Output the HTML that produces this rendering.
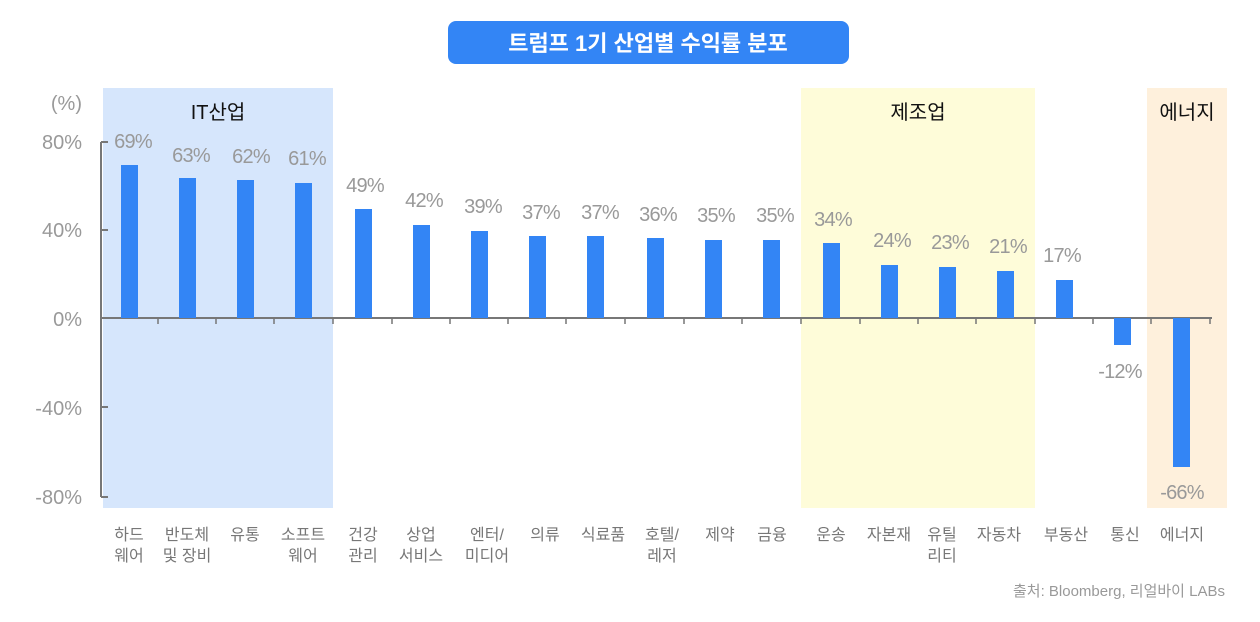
<!DOCTYPE html>
<html><head><meta charset="utf-8"><style>
html,body{margin:0;padding:0;background:#fff;}
svg{display:block;font-family:"Liberation Sans","Noto Sans CJK KR",sans-serif;}
</style></head><body>
<svg width="1260" height="622" viewBox="0 0 1260 622" xmlns="http://www.w3.org/2000/svg">
<rect x="448" y="21" width="401" height="43" rx="8" fill="#3385f5"/>
<text x="648" y="51" text-anchor="middle" font-size="22" font-weight="bold" fill="#fff">트럼프 1기 산업별 수익률 분포</text>
<rect x="103" y="88" width="230" height="420" fill="#d6e6fc"/>
<rect x="801" y="88" width="234" height="420" fill="#fefcd9"/>
<rect x="1147" y="88" width="80" height="420" fill="#fef0dc"/>
<text x="218" y="119" text-anchor="middle" font-size="20" fill="#111">IT산업</text>
<text x="918" y="119" text-anchor="middle" font-size="20" fill="#111">제조업</text>
<text x="1187" y="119" text-anchor="middle" font-size="20" fill="#111">에너지</text>
<g font-size="20" fill="#999" text-anchor="end">
<text x="82" y="110">(%)</text>
<text x="82" y="149">80%</text>
<text x="82" y="237">40%</text>
<text x="82" y="326">0%</text>
<text x="82" y="415">-40%</text>
<text x="82" y="504">-80%</text>
</g>
<g stroke="#777" stroke-width="2" fill="none">
<path d="M101 142 V497"/>
<path d="M101 142 H108 M101 230 H108 M101 407 H108 M101 497 H108"/>
<path d="M101 318 H1212"/>
</g>
<g stroke="#777" stroke-width="1.5">
<path d="M158 318V324 M216 318V324 M274 318V324 M333 318V324 M392 318V324 M450 318V324 M508 318V324 M566 318V324 M625 318V324 M684 318V324 M742 318V324 M801 318V324 M860 318V324 M918 318V324 M976 318V324 M1035 318V324 M1093 318V324 M1151 318V324 M1210 318V324"/>
</g>
<g fill="#3385f5">
<rect x="121" y="165" width="17" height="153"/>
<rect x="179" y="178" width="17" height="140"/>
<rect x="237" y="180" width="17" height="138"/>
<rect x="295" y="183" width="17" height="135"/>
<rect x="355" y="209" width="17" height="109"/>
<rect x="413" y="225" width="17" height="93"/>
<rect x="471" y="231" width="17" height="87"/>
<rect x="529" y="236" width="17" height="82"/>
<rect x="587" y="236" width="17" height="82"/>
<rect x="647" y="238" width="17" height="80"/>
<rect x="705" y="240" width="17" height="78"/>
<rect x="763" y="240" width="17" height="78"/>
<rect x="823" y="243" width="17" height="75"/>
<rect x="881" y="265" width="17" height="53"/>
<rect x="939" y="267" width="17" height="51"/>
<rect x="997" y="271" width="17" height="47"/>
<rect x="1056" y="280" width="17" height="38"/>
<rect x="1114" y="318" width="17" height="27"/>
<rect x="1173" y="318" width="17" height="149"/>
</g>
<g font-size="20" fill="#999" text-anchor="middle" letter-spacing="-0.8">
<text x="133" y="148">69%</text>
<text x="191" y="162">63%</text>
<text x="251" y="163">62%</text>
<text x="307" y="165">61%</text>
<text x="365" y="192">49%</text>
<text x="424" y="207">42%</text>
<text x="483" y="213">39%</text>
<text x="541" y="219">37%</text>
<text x="600" y="219">37%</text>
<text x="658" y="221">36%</text>
<text x="716" y="222">35%</text>
<text x="775" y="222">35%</text>
<text x="833" y="226">34%</text>
<text x="892" y="247">24%</text>
<text x="950" y="249">23%</text>
<text x="1008" y="253">21%</text>
<text x="1062" y="262">17%</text>
<text x="1120" y="378">-12%</text>
<text x="1182" y="499">-66%</text>
</g>
<g font-size="16" fill="#777" text-anchor="middle">
<text x="129" y="540">하드</text><text x="129" y="561">웨어</text>
<text x="187" y="540">반도체</text><text x="187" y="561">및 장비</text>
<text x="245" y="540">유통</text>
<text x="303" y="540">소프트</text><text x="303" y="561">웨어</text>
<text x="363" y="540">건강</text><text x="363" y="561">관리</text>
<text x="421" y="540">상업</text><text x="421" y="561">서비스</text>
<text x="487" y="540">엔터/</text><text x="487" y="561">미디어</text>
<text x="545" y="540">의류</text>
<text x="603" y="540">식료품</text>
<text x="662" y="540">호텔/</text><text x="662" y="561">레저</text>
<text x="720" y="540">제약</text>
<text x="772" y="540">금융</text>
<text x="831" y="540">운송</text>
<text x="889" y="540">자본재</text>
<text x="942" y="540">유틸</text><text x="942" y="561">리티</text>
<text x="999" y="540">자동차</text>
<text x="1066" y="540">부동산</text>
<text x="1125" y="540">통신</text>
<text x="1182" y="540">에너지</text>
</g>
<text x="1225" y="596" text-anchor="end" font-size="15" fill="#999">출처: Bloomberg, 리얼바이 LABs</text>
</svg>
</body></html>
